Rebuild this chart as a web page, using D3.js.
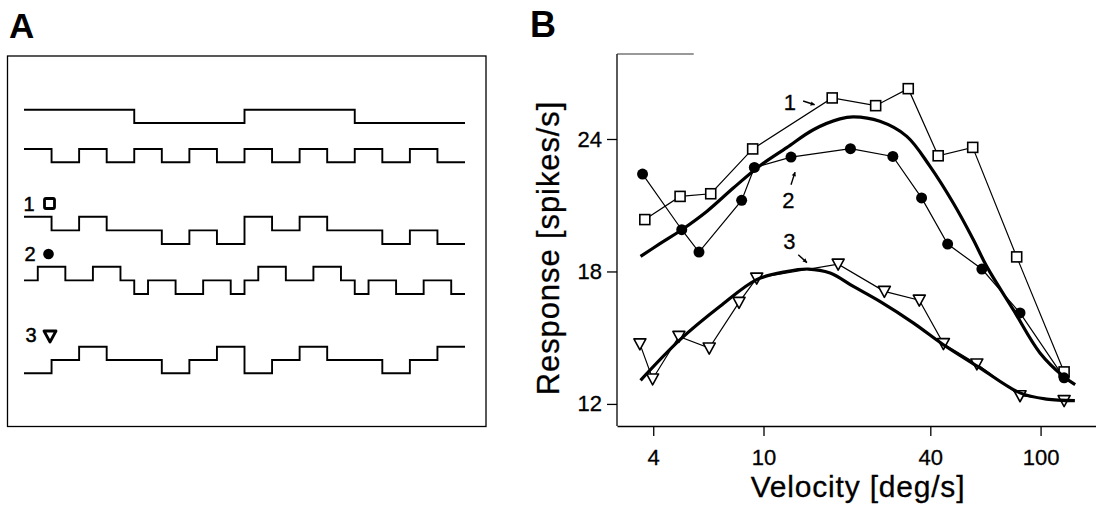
<!DOCTYPE html>
<html>
<head>
<meta charset="utf-8">
<script src="https://cdn.jsdelivr.net/npm/d3@7"></script>
<style>
  html, body { margin: 0; padding: 0; background: #fff; }
  svg { display: block; font-family: "Liberation Sans", Arial, sans-serif; }
  .axis path, .axis line { stroke: #000; stroke-width: 1.3; }
  .axis text { font-size: 22px; fill: #000; stroke: #000; stroke-width: 0.3; }
</style>
</head>
<body>
<svg id="chart" width="1096" height="506"></svg>
<script>
// panel A: stimulus/response traces, one value per half-slot (0 = low, 1 = mid, 2 = high)
const slowWave = [1,1,1,1,1,1,1,1, 0,0,0,0,0,0,0,0, 1,1,1,1,1,1,1,1, 0,0,0,0,0,0,0,0];
const fastWave = [1,1,0,0,1,1,0,0, 1,1,0,0,1,1,0,0, 1,1,0,0,1,1,0,0, 1,1,0,0,1,1,0,0];
const wave1    = [2,2,1,1,2,2,1,1, 1,1,0,0,1,1,0,0, 2,2,1,1,2,2,1,1, 1,1,0,0,1,1,0,0];
const wave2    = [1,2,2,1,1,2,2,1, 0,1,1,0,0,1,1,0, 1,2,2,1,1,2,2,1, 0,1,1,0,0,1,1,0];
const wave3    = [0,0,1,1,2,2,1,1, 1,1,0,0,1,1,2,2, 0,0,1,1,2,2,1,1, 1,1,0,0,1,1,2,2];

// panel B: velocity [deg/s] and response [spikes/s]
const velocity1 = [3.73, 5.0, 6.45, 9.14, 17.7, 25.4, 33.3, 42.7, 56.9, 82.0, 121.6];
const response1 = [20.35, 21.40, 21.52, 23.55, 25.86, 25.51, 26.28, 23.24, 23.62, 18.66, 13.45];
const velocity2 = [3.66, 5.07, 5.85, 8.34, 9.27, 12.57, 20.6, 29.3, 37.2, 46.2, 61.4, 84.3, 121.6];
const response2 = [22.41, 19.89, 18.88, 21.22, 22.71, 23.18, 23.56, 23.21, 21.33, 19.24, 18.11, 16.12, 13.18];
const velocity3 = [3.58, 3.98, 4.95, 6.37, 8.16, 9.45, 18.6, 27.3, 36.5, 44.6, 58.9, 84.3, 121.6];
const response3 = [14.72, 13.13, 15.06, 14.53, 16.60, 17.70, 18.33, 17.10, 16.70, 14.73, 13.81, 12.37, 12.15];

// fitted curves
const fitVelocityA = [3.60, 4.23, 5.07, 6.24, 7.78, 9.71, 12.13, 15.13, 18.88, 21.1, 26.3, 32.9, 39.9, 48.4, 57.2, 63.9, 79.7, 99.5, 120.8, 133.3];
const fitResponseA = [18.68, 19.26, 19.89, 20.72, 21.78, 22.79, 23.61, 24.42, 24.91, 25.0, 24.80, 24.12, 22.76, 21.10, 19.44, 18.23, 16.27, 14.31, 13.25, 12.87];
const fitVelocityB = [3.60, 5.0, 6.97, 9.45, 12.1, 14.5, 17.4, 21.1, 26.3, 34.7, 44.6, 60.4, 84.3, 105, 133];
const fitResponseB = [13.07, 14.91, 16.42, 17.63, 18.0, 18.11, 17.93, 17.32, 16.64, 15.67, 14.68, 13.63, 12.50, 12.22, 12.15];

const xTicks = [4, 10, 40, 100];
const yTicks = [12, 18, 24];

const svg = d3.select("#chart");

// ---------- panel A ----------
const gA = svg.append("g");
gA.append("text").attr("x", 9).attr("y", 38)
  .attr("font-size", 35).attr("font-weight", "bold").text("A");

gA.append("rect")
  .attr("x", 7.5).attr("y", 56).attr("width", 478.5).attr("height", 370.5)
  .attr("fill", "none").attr("stroke", "#000").attr("stroke-width", 1.3);

const xA = d3.scaleLinear().domain([0, 32]).range([24, 465]);
const traces = [
  { wave: slowWave, base: 123, step: 13.3 },
  { wave: fastWave, base: 162.3, step: 13.3 },
  { wave: wave1, base: 244, step: 13.6 },
  { wave: wave2, base: 294, step: 13.6 },
  { wave: wave3, base: 373.3, step: 13.3 }
];
traces.forEach(t => {
  const pts = t.wave.map((v, i) => [i, v]).concat([[t.wave.length, t.wave[t.wave.length - 1]]]);
  const line = d3.line()
    .x(d => xA(d[0]))
    .y(d => t.base - d[1] * t.step)
    .curve(d3.curveStepAfter);
  gA.append("path").attr("d", line(pts))
    .attr("fill", "none").attr("stroke", "#000").attr("stroke-width", 1.9);
});

const labelsA = [
  { n: "1", x: 29, y: 211, sym: "square", mx: 49.5, my: 203.5 },
  { n: "2", x: 30, y: 261, sym: "circle", mx: 48.5, my: 254 },
  { n: "3", x: 31, y: 342, sym: "tri", mx: 50, my: 336 }
];
labelsA.forEach(l => {
  gA.append("text").attr("x", l.x).attr("y", l.y).attr("text-anchor", "middle")
    .attr("font-size", 20).attr("stroke", "#000").attr("stroke-width", 0.5).text(l.n);
  if (l.sym === "square") {
    gA.append("rect").attr("x", l.mx - 5).attr("y", l.my - 5).attr("width", 10).attr("height", 10)
      .attr("rx", 1.5).attr("fill", "#fff").attr("stroke", "#000").attr("stroke-width", 2.8);
  } else if (l.sym === "circle") {
    gA.append("circle").attr("cx", l.mx).attr("cy", l.my).attr("r", 5.3).attr("fill", "#000");
  } else {
    gA.append("path").attr("d", "M-6,-5L6,-5L0,6Z")
      .attr("transform", `translate(${l.mx},${l.my})`)
      .attr("fill", "#fff").attr("stroke", "#000").attr("stroke-width", 2.8).attr("stroke-linejoin", "round");
  }
});

// ---------- panel B ----------
const gB = svg.append("g");
gB.append("text").attr("x", 530).attr("y", 37)
  .attr("font-size", 36).attr("font-weight", "bold").text("B");

const x = d3.scaleLog().domain([2.96, 158.5]).range([617, 1096]);
const y = d3.scaleLinear().domain([11, 27.85]).range([426, 54]);

gB.append("g").attr("class", "axis")
  .attr("transform", "translate(617,0)")
  .call(d3.axisLeft(y).tickValues(yTicks).tickSize(10).tickPadding(5).tickSizeOuter(0))
  .call(g => g.select(".domain").attr("d", `M0,${y.range()[1]}V${y.range()[0]}`));

// faint short top edge of the frame
gB.append("line")
  .attr("x1", x.range()[0]).attr("x2", x(5.6))
  .attr("y1", y.range()[1]).attr("y2", y.range()[1])
  .attr("stroke", "#333").attr("stroke-width", 1);

gB.append("g").attr("class", "axis")
  .attr("transform", "translate(0,426)")
  .call(d3.axisBottom(x).tickValues(xTicks).tickFormat(d3.format("d")).tickSize(10).tickPadding(13).tickSizeOuter(0));

gB.append("text")
  .attr("x", 858).attr("y", 497).attr("text-anchor", "middle")
  .attr("font-size", 30).attr("letter-spacing", 0.8)
  .attr("stroke", "#000").attr("stroke-width", 0.3).text("Velocity [deg/s]");

gB.append("text")
  .attr("transform", "translate(548,248) rotate(-90)")
  .attr("text-anchor", "middle").attr("dy", "0.35em")
  .attr("font-size", 31).attr("letter-spacing", 0.9)
  .attr("stroke", "#000").attr("stroke-width", 0.3).text("Response [spikes/s]");

const thin = d3.line().x(d => x(d[0])).y(d => y(d[1]));
const series = [
  { v: velocity1, r: response1, sym: "square" },
  { v: velocity2, r: response2, sym: "circle" },
  { v: velocity3, r: response3, sym: "tri" }
];
series.forEach(s => {
  const pts = s.v.map((v, i) => [v, s.r[i]]);
  gB.append("path").attr("d", thin(pts))
    .attr("fill", "none").attr("stroke", "#000").attr("stroke-width", 1.2);
});
series.forEach(s => {
  const pts = s.v.map((v, i) => [v, s.r[i]]);
  const sel = gB.append("g").selectAll("g").data(pts).join("g")
    .attr("transform", d => `translate(${x(d[0])},${y(d[1])})`);
  if (s.sym === "square") {
    sel.append("rect").attr("x", -5).attr("y", -5).attr("width", 10).attr("height", 10)
      .attr("fill", "#fff").attr("stroke", "#000").attr("stroke-width", 1.6);
  } else if (s.sym === "circle") {
    sel.append("circle").attr("r", 5.5).attr("fill", "#000");
  } else {
    sel.append("path").attr("d", "M-6,-5L6,-5L0,6Z")
      .attr("fill", "#fff").attr("stroke", "#000").attr("stroke-width", 1.6).attr("stroke-linejoin", "round");
  }
});

const fitLine = d3.line().x(d => x(d[0])).y(d => y(d[1])).curve(d3.curveCatmullRom.alpha(0.5));
[[fitVelocityA, fitResponseA], [fitVelocityB, fitResponseB]].forEach(([vs, rs]) => {
  gB.append("path").attr("d", fitLine(vs.map((v, i) => [v, rs[i]])))
    .attr("fill", "none").attr("stroke", "#000").attr("stroke-width", 3.2);
});

// annotations
const notes = [
  { t: "1", v: 12.46, r: 25.66, a: [[13.9, 25.72], [15.3, 25.55]] },
  { t: "2", v: 12.29, r: 21.25, a: [[12.57, 21.93], [13.0, 22.5]] },
  { t: "3", v: 12.39, r: 19.36, a: [[13.35, 18.76], [14.35, 18.4]] }
];
notes.forEach(n => {
  gB.append("text").attr("x", x(n.v)).attr("y", y(n.r)).attr("dy", "0.36em")
    .attr("text-anchor", "middle").attr("font-size", 22)
    .attr("stroke", "#000").attr("stroke-width", 0.3).text(n.t);
  const [p0, p1] = n.a.map(p => [x(p[0]), y(p[1])]);
  gB.append("line").attr("x1", p0[0]).attr("y1", p0[1]).attr("x2", p1[0]).attr("y2", p1[1])
    .attr("stroke", "#000").attr("stroke-width", 1.4);
  const ang = Math.atan2(p1[1] - p0[1], p1[0] - p0[0]) * 180 / Math.PI;
  gB.append("path").attr("d", "M0,0L-4,-2.2L-4,2.2Z")
    .attr("transform", `translate(${p1[0]},${p1[1]}) rotate(${ang})`).attr("fill", "#000");
});
</script>
</body>
</html>
